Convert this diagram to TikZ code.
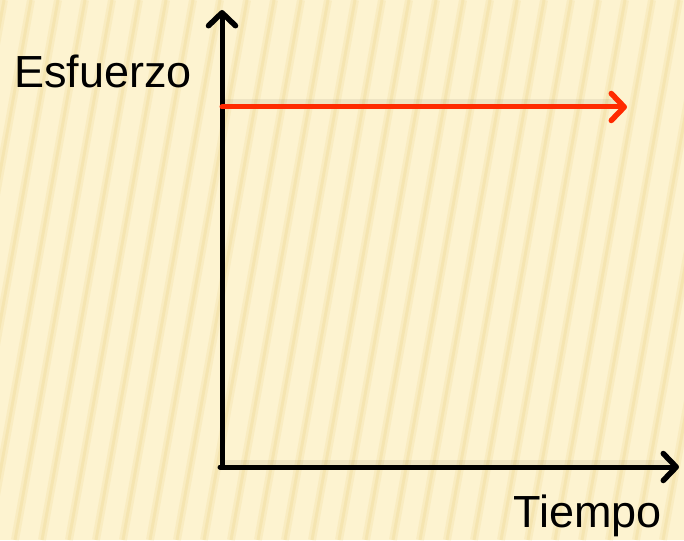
\documentclass[tikz,border=0pt]{standalone}
\usepackage{fontspec}
\setmainfont{Liberation Sans}
\usetikzlibrary{arrows.meta}
\definecolor{fondo}{HTML}{FDF3D0}
\definecolor{raya}{HTML}{F0D895}
\definecolor{rojo}{HTML}{FF2A00}

\begin{document}
\begin{tikzpicture}[x=1pt, y=-1pt,
    flecha/.style={line width=5pt, line cap=round,
      -{Straight Barb[length=13pt, width=27pt, line width=5.5pt, line cap=round, line join=round]}},
    sombra/.style={line width=7pt, black, opacity=0.06},
    etiqueta/.style={inner sep=0pt, anchor=base west, font=\fontsize{45}{54}\selectfont}]
  % Fondo
  \useasboundingbox (0,0) rectangle (684,540);
  \fill[fondo] (0,0) rectangle (684,540);
  \begin{scope}
    \clip (0,0) rectangle (684,540);
    \foreach \x in {-120,-93,...,700}{
      \draw[raya, line width=8pt, opacity=0.25] (\x,540) -- (\x+97,0);
      \draw[raya, line width=3pt, opacity=0.35] (\x,540) -- (\x+97,0);
    }
  \end{scope}

  % Puntos
  \coordinate (origen) at (222,467);
  \coordinate (ytope) at (222,10);
  \coordinate (xfin) at (679,467);
  \coordinate (finicio) at (222,107);
  \coordinate (ffin) at (627,107);

  % Etiquetas
  \node[etiqueta] (esfuerzo) at (14,88) {Esfuerzo};
  \node[etiqueta] (tiempo) at (513,527) {Tiempo};

  % Sombras
  \draw[sombra] ([yshift=4pt]finicio) -- ([yshift=4pt,xshift=-8pt]ffin);
  \draw[sombra] ([yshift=4pt]origen) -- ([yshift=4pt,xshift=-8pt]xfin);

  % Ejes
  \draw[flecha] ([yshift=2pt]origen) -- (ytope);
  \draw[flecha] ([xshift=-2pt]origen) -- (xfin);
  \draw[flecha, rojo] (finicio) -- (ffin);
\end{tikzpicture}
\end{document}
